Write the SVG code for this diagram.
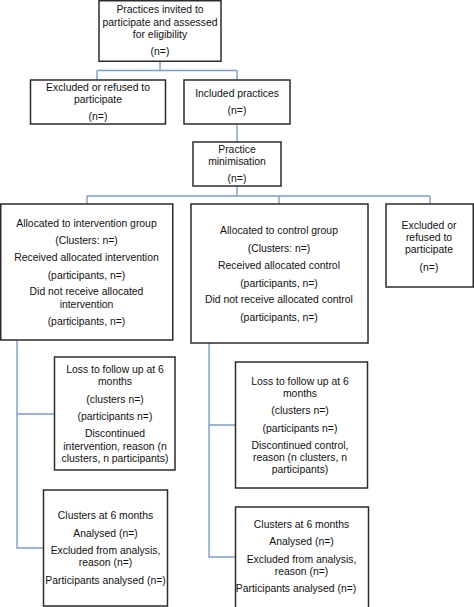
<svg xmlns="http://www.w3.org/2000/svg" width="474" height="607" viewBox="0 0 474 607">
<style>
.box{fill:#fff;stroke:#2b2b2b;stroke-width:1.5}
.ln{fill:none;stroke:#7c9ccc;stroke-width:1.4}
text{font-family:"Liberation Sans",Arial,sans-serif;font-size:10.4px;fill:#111;text-anchor:middle}
</style>
<rect width="474" height="607" fill="#fff"/>
<g id="connectors">
<path class="ln" d="M160,61 V70.5 M97,70.5 H237 M97,70.5 V80 M237,70.5 V80"/>
<path class="ln" d="M237,124 V142"/>
<path class="ln" d="M237,186 V196 M87,196 H430 M87,196 V204 M279,196 V204 M430,196 V204"/>
<path class="ln" d="M17,340 V548 H43 M17,414 H54"/>
<path class="ln" d="M209,343 V557 H235 M209,425 H235"/>
</g>
<g id="n_invited">
<rect class="box" x="99" y="0.75" width="122" height="60.5"/>
<text x="160" y="13">Practices invited to</text>
<text x="160" y="26">participate and assessed</text>
<text x="160" y="37.5">for eligibility</text>
<text x="160" y="55">(n=)</text>
</g>
<g id="n_excluded1">
<rect class="box" x="30.5" y="80" width="135" height="44"/>
<text x="98" y="91">Excluded or refused to</text>
<text x="98" y="103">participate</text>
<text x="98" y="120">(n=)</text>
</g>
<g id="n_included">
<rect class="box" x="184" y="80" width="106" height="44"/>
<text x="237" y="96.5">Included practices</text>
<text x="237" y="114">(n=)</text>
</g>
<g id="n_minimisation">
<rect class="box" x="193" y="142" width="88" height="44"/>
<text x="237" y="152.5">Practice</text>
<text x="237" y="165">minimisation</text>
<text x="237" y="182">(n=)</text>
</g>
<g id="n_intervention">
<rect class="box" x="0.75" y="204" width="172" height="136"/>
<text x="86.5" y="226.5">Allocated to intervention group</text>
<text x="86.5" y="243.5">(Clusters: n=)</text>
<text x="86.5" y="261">Received allocated intervention</text>
<text x="86.5" y="278.5">(participants, n=)</text>
<text x="86.5" y="295">Did not receive allocated</text>
<text x="86.5" y="307.5">intervention</text>
<text x="86.5" y="325">(participants, n=)</text>
</g>
<g id="n_control">
<rect class="box" x="191" y="204" width="177" height="139"/>
<text x="279" y="234">Allocated to control group</text>
<text x="279" y="252">(Clusters: n=)</text>
<text x="279" y="269">Received allocated control</text>
<text x="279" y="286.5">(participants, n=)</text>
<text x="279" y="303">Did not receive allocated control</text>
<text x="279" y="320.5">(participants, n=)</text>
</g>
<g id="n_excluded2">
<rect class="box" x="386" y="204" width="87.25" height="83"/>
<text x="429" y="228.5">Excluded or</text>
<text x="429" y="241">refused to</text>
<text x="429" y="253">participate</text>
<text x="429" y="271">(n=)</text>
</g>
<g id="n_loss_int">
<rect class="box" x="54.5" y="357" width="120.5" height="113"/>
<text x="115" y="373">Loss to follow up at 6</text>
<text x="115" y="385">months</text>
<text x="115" y="403">(clusters n=)</text>
<text x="115" y="420">(participants n=)</text>
<text x="115" y="437">Discontinued</text>
<text x="115" y="449.5">intervention, reason (n</text>
<text x="115" y="461.5">clusters, n participants)</text>
</g>
<g id="n_loss_ctl">
<rect class="box" x="235.5" y="362" width="132" height="126"/>
<text x="300" y="384.5">Loss to follow up at 6</text>
<text x="300" y="397">months</text>
<text x="300" y="414">(clusters n=)</text>
<text x="300" y="431.5">(participants n=)</text>
<text x="300" y="449">Discontinued control,</text>
<text x="300" y="461">reason (n clusters, n</text>
<text x="300" y="473">participants)</text>
</g>
<g id="n_analysis_int">
<rect class="box" x="43.5" y="490" width="124" height="116"/>
<text x="105.5" y="519">Clusters at 6 months</text>
<text x="105.5" y="536.5">Analysed (n=)</text>
<text x="105.5" y="554">Excluded from analysis,</text>
<text x="105.5" y="566">reason (n=)</text>
<text x="105.5" y="583.5">Participants analysed (n=)</text>
</g>
<g id="n_analysis_ctl">
<rect class="box" x="235.5" y="507" width="133" height="102"/>
<text x="301.5" y="528">Clusters at 6 months</text>
<text x="301.5" y="545">Analysed (n=)</text>
<text x="301.5" y="563">Excluded from analysis,</text>
<text x="301.5" y="574.5">reason (n=)</text>
<text x="296" y="592">Participants analysed (n=)</text>
</g>
</svg>
